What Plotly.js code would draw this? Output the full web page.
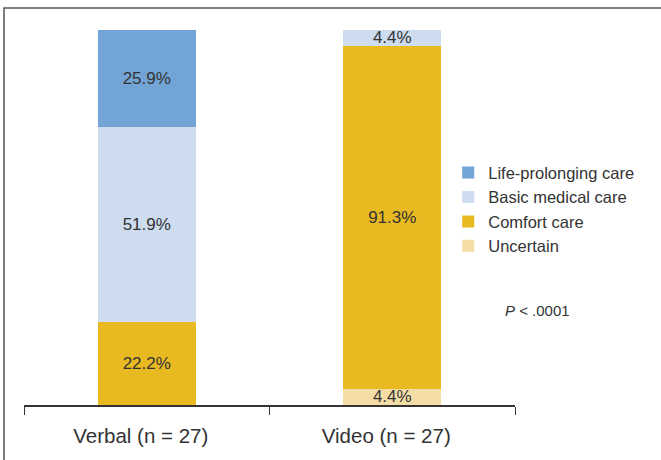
<!DOCTYPE html>
<html>
<head>
<meta charset="utf-8">
<script src="https://cdn.plot.ly/plotly-3.0.1.min.js"></script>
<style>
  html, body { margin: 0; padding: 0; background: #fff; }
  #chart { width: 661px; height: 460px; }
</style>
</head>
<body>
<div id="chart"></div>
<script>
const categories = ["Verbal (n = 27)", "Video (n = 27)"];
const seriesNames = ["Uncertain", "Comfort care", "Basic medical care", "Life-prolonging care"];
const uncertain = [null, 4.4];
const comfortCare = [22.2, 91.3];
const basicMedicalCare = [51.9, 4.4];
const lifeProlongingCare = [25.9, null];
const seriesColors = ["#f5dea5", "#e8b921", "#cddcee", "#72a5d5"];
const pValueLabel = "<i>P</i> < .0001";

const seriesValues = [uncertain, comfortCare, basicMedicalCare, lifeProlongingCare];

const traces = seriesValues.map((vals, i) => ({
  type: "bar",
  name: seriesNames[i],
  x: categories,
  y: vals,
  marker: { color: seriesColors[i], line: { width: 0 } },
  texttemplate: "%{y:.1f}%",
  textposition: "inside",
  insidetextanchor: "middle",
  textangle: 0,
  constraintext: "none",
  textfont: { family: "Liberation Sans, Arial, sans-serif", size: 17, color: "#333333" },
  legendgroup: "g" + i,
  hoverinfo: "skip"
}));

const layout = {
  width: 661,
  height: 460,
  margin: { l: 24, r: 146, t: 30, b: 55, autoexpand: false },
  paper_bgcolor: "#ffffff",
  plot_bgcolor: "#ffffff",
  barmode: "stack",
  bargap: 0.6,
  showlegend: true,
  legend: {
    x: 0.864, y: 0.666, xanchor: "left", yanchor: "top",
    traceorder: "reversed",
    tracegroupgap: 3,
    font: { family: "Liberation Sans, Arial, sans-serif", size: 16.5, color: "#333333" },
    bgcolor: "rgba(0,0,0,0)",
    itemwidth: 30
  },
  xaxis: {
    type: "category",
    showline: true,
    linecolor: "#333333",
    linewidth: 1.5,
    ticks: "outside",
    tickson: "boundaries",
    ticklen: 8,
    tickwidth: 1,
    tickcolor: "#333333",
    ticklabelstandoff: 12,
    ticklabelshift: -6,
    showgrid: false,
    zeroline: false,
    tickfont: { family: "Liberation Sans, Arial, sans-serif", size: 20.5, color: "#333333" },
    fixedrange: true
  },
  yaxis: {
    range: [0, 100],
    visible: false,
    showgrid: false,
    zeroline: false,
    fixedrange: true
  },
  annotations: [{
    text: pValueLabel,
    xref: "paper", yref: "paper",
    x: 1.045, y: 0.253,
    xanchor: "center", yanchor: "middle",
    showarrow: false,
    font: { family: "Liberation Sans, Arial, sans-serif", size: 15, color: "#333333" }
  }],
  shapes: [{
    type: "rect",
    xref: "paper", yref: "paper",
    x0: -0.0407, x1: 1.4,
    y0: -0.16, y1: 1.0587,
    line: { color: "#555555", width: 1.5 },
    fillcolor: "rgba(0,0,0,0)",
    layer: "below"
  }]
};

Plotly.newPlot("chart", traces, layout, { displayModeBar: false, staticPlot: true });
</script>
</body>
</html>
